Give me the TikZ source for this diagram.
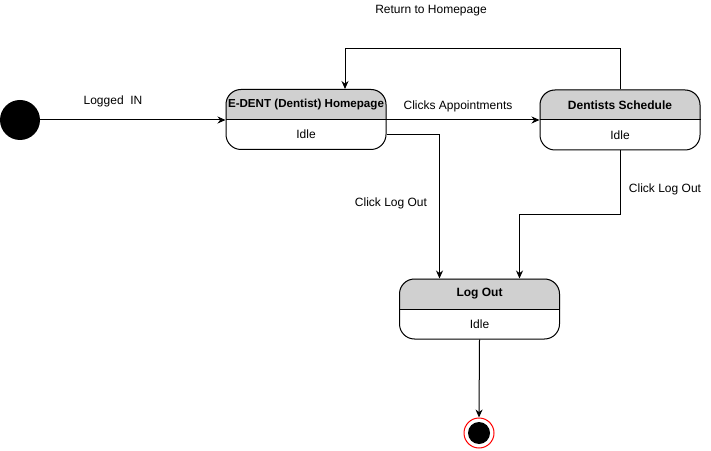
\documentclass[tikz,border=0pt]{standalone}
\usepackage{fontspec}
\setmainfont{Liberation Sans}
\usetikzlibrary{arrows.meta,backgrounds,calc}
\definecolor{hdr}{RGB}{208,208,208}
\definecolor{endred}{RGB}{255,0,0}
\begin{document}
\begin{tikzpicture}[x=1pt,y=1pt,
  statebox/.style={draw, line width=1pt, rounded corners=15pt, minimum width=160pt, minimum height=60pt, inner sep=0pt},
  arr/.style={draw, line width=1pt, -{Stealth[length=8pt,width=7pt]}},
  lbl/.style={font=\fontsize{12}{14}\selectfont, inner sep=1pt},
  ttl/.style={font=\fontsize{12}{14}\selectfont\bfseries, inner sep=0pt},
]
\useasboundingbox (0,0) rectangle (711,450);
% initial state
\node[circle, fill=black, minimum size=40pt, inner sep=0pt] (init) at (20,330) {};
% states
\node[statebox] (hp) at (306,330.5) {};
\node[statebox] (sch) at (620,330) {};
\node[statebox] (lo) at (479.5,141) {};
\begin{scope}[on background layer]
\foreach \s in {hp,sch,lo}{
  \fill[hdr] (\s.west) -- ([yshift=-15pt]\s.north west) arc(180:90:15pt) -- ([xshift=-15pt]\s.north east) arc(90:0:15pt) -- (\s.east) -- cycle;
}
\end{scope}
\foreach \s in {hp,sch,lo}{
  \draw[line width=1pt] (\s.west) -- (\s.east);
}
\node[ttl, font=\fontsize{11.6}{14}\selectfont\bfseries] (hpT) at ([yshift=15pt]hp.center) {E-DENT (Dentist) Homepage};
\node[lbl] (hpI) at ([yshift=-15pt]hp.center) {Idle};
\node[ttl] (schT) at ([yshift=15pt]sch.center) {Dentists Schedule};
\node[lbl] (schI) at ([yshift=-15pt]sch.center) {Idle};
\node[ttl] (loT) at ([yshift=15pt]lo.center) {Log Out};
\node[lbl] (loI) at ([yshift=-15pt]lo.center) {Idle};
% final state
\node[circle, draw=endred, fill=white, line width=1pt, minimum size=30pt, inner sep=0pt] (fin) at (479,17) {};
\node[circle, fill=black, minimum size=22pt, inner sep=0pt] (finIn) at (fin.center) {};
% connectors
\draw[arr] (init.east) -- (init.east -| hp.west);
\node[lbl] (l1) at (113,349) {Logged\ \ IN};
\draw[arr] ([yshift=-0.5pt]hp.east) -- (sch.west);
\node[lbl] (l2) at (458,344) {Clicks Appointments};
\draw[arr] ([yshift=-15pt]hp.east) -| ([xshift=-40pt]lo.north);
\node[lbl] (l3) at (391,247) {Click Log Out};
\draw[arr] (sch.south) -- ++(0,-64) -| ([xshift=40pt]lo.north);
\node[lbl] (l4) at (665,261) {Click Log Out};
\draw[arr] (sch.north) -- ++(0,41) -| ([xshift=39pt]hp.north);
\node[lbl] (l5) at (431,439) {Return to Homepage};
\draw[arr] (lo.south) -- (fin.north);
\end{tikzpicture}
\end{document}
